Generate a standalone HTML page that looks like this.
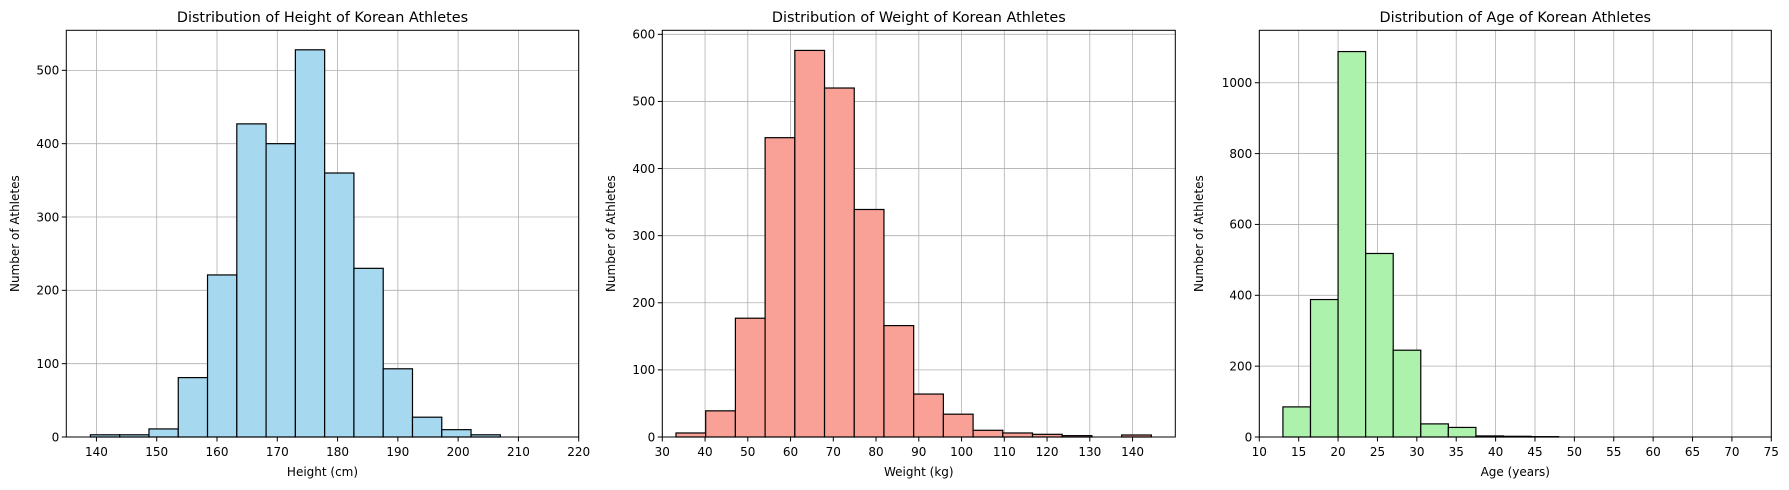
<!DOCTYPE html>
<html><head><meta charset="utf-8">
<style>
html,body{margin:0;padding:0;background:#fff;}
svg{display:block;font-family:"DejaVu Sans","Liberation Sans",sans-serif;}
</style></head>
<body>
<svg id="fig" width="1789" height="490" viewBox="0 0 1789 490" xmlns="http://www.w3.org/2000/svg"></svg>
<script>
// Height chart data
const heightMin = 139, heightMax = 207;
const heightCounts = [3,3,11,81,221,427,400,528,360,230,93,27,10,3];
const heightXTicks = [140,150,160,170,180,190,200,210,220];
const heightYTicks = [0,100,200,300,400,500];
// Weight chart data
const weightMin = 33.2, weightMax = 144.4;
const weightCounts = [6,39,177,446,576,520,339,166,64,34,10,6,4,2,0,3];
const weightXTicks = [30,40,50,60,70,80,90,100,110,120,130,140];
const weightYTicks = [0,100,200,300,400,500,600];
// Age chart data
const ageMin = 13, ageMax = 48;
const ageCounts = [85,388,1088,518,245,37,27,3,2,1];
const ageXTicks = [10,15,20,25,30,35,40,45,50,55,60,65,70,75];
const ageYTicks = [0,200,400,600,800,1000];

const NS = "http://www.w3.org/2000/svg";
const fig = document.getElementById('fig');
function mk(tag, attrs, parent){
  const e = document.createElementNS(NS, tag);
  for (const k in attrs) e.setAttribute(k, attrs[k]);
  parent.appendChild(e);
  return e;
}
function chart(cfg){
  const g = mk('g', {}, fig);
  
  
  const L=cfg.left, R=cfg.right, T=30.3, B=437;
  const sx = v => L + (v - cfg.xmin) / (cfg.xmax - cfg.xmin) * (R - L);
  const sy = v => B - v / cfg.ymax * (B - T);
  // grid
  cfg.xticks.forEach(t=>{
    const x = sx(t);
    if (x < L-0.5 || x > R+0.5) return;
    const ln = mk('line',{x1:x,x2:x,y1:T,y2:B,stroke:'#b0b0b0','stroke-width':0.8},g);
    
    
  });
  cfg.yticks.forEach(t=>{
    const y = sy(t);
    const ln = mk('line',{x1:L,x2:R,y1:y,y2:y,stroke:'#b0b0b0','stroke-width':0.8},g);
    
    
  });
  // bars
  const n = cfg.counts.length, w = (cfg.max - cfg.min) / n;
  cfg.counts.forEach((c,i)=>{
    const x0 = sx(cfg.min + i*w), x1 = sx(cfg.min + (i+1)*w);
    const y = sy(c);
    const r = mk('rect',{x:x0,y:y,width:x1-x0,height:B-y,fill:cfg.color,stroke:'#000','stroke-width':1.2},g);
    
    
  });
  // frame
  const fr = mk('rect',{x:L,y:T,width:R-L,height:B-T,fill:'none',stroke:'#000','stroke-width':1},g);
  
  
  // ticks
  cfg.xticks.forEach(t=>{
    const x = sx(t);
    mk('line',{x1:x,x2:x,y1:B,y2:B+4.5,stroke:'#000','stroke-width':1},g);
    const tx = mk('text',{x:x,y:B+19,'font-size':12,'text-anchor':'middle',fill:'#000'},g);
    tx.textContent = t;
    
    
  });
  cfg.yticks.forEach(t=>{
    const y = sy(t);
    mk('line',{x1:L-4.5,x2:L,y1:y,y2:y,stroke:'#000','stroke-width':1},g);
    const tx = mk('text',{x:L-7,y:y+4.3,'font-size':12,'text-anchor':'end',fill:'#000'},g);
    tx.textContent = t;
    
    
  });
  const ti = mk('text',{x:(L+R)/2,y:22,'font-size':14.4,'text-anchor':'middle',fill:'#000'},g);
  ti.textContent = cfg.title;
  
  
  const xl = mk('text',{x:(L+R)/2,y:476,'font-size':12,'text-anchor':'middle',fill:'#000'},g);
  xl.textContent = cfg.xlabel;
  
  
  const yl = mk('text',{x:0,y:0,'font-size':12,'text-anchor':'middle',fill:'#000',transform:`translate(${cfg.ylx},${(T+B)/2}) rotate(-90)`},g);
  yl.textContent = 'Number of Athletes';
  
  
}
chart({name:'height-histogram',left:66.3,right:578.7,xmin:135,xmax:220,ymax:554.6,
  min:heightMin,max:heightMax,counts:heightCounts,xticks:heightXTicks,yticks:heightYTicks,
  color:'#a6d9ef',title:'Distribution of Height of Korean Athletes',xlabel:'Height (cm)',ylx:19});
chart({name:'weight-histogram',left:662.3,right:1175.3,xmin:30,xmax:150,ymax:606,
  min:weightMin,max:weightMax,counts:weightCounts,xticks:weightXTicks,yticks:weightYTicks,
  color:'#f9a196',title:'Distribution of Weight of Korean Athletes',xlabel:'Weight (kg)',ylx:615});
chart({name:'age-histogram',left:1259.3,right:1771.3,xmin:10,xmax:75,ymax:1148,
  min:ageMin,max:ageMax,counts:ageCounts,xticks:ageXTicks,yticks:ageYTicks,
  color:'#adf2ac',title:'Distribution of Age of Korean Athletes',xlabel:'Age (years)',ylx:1203});
</script>
</body></html>
